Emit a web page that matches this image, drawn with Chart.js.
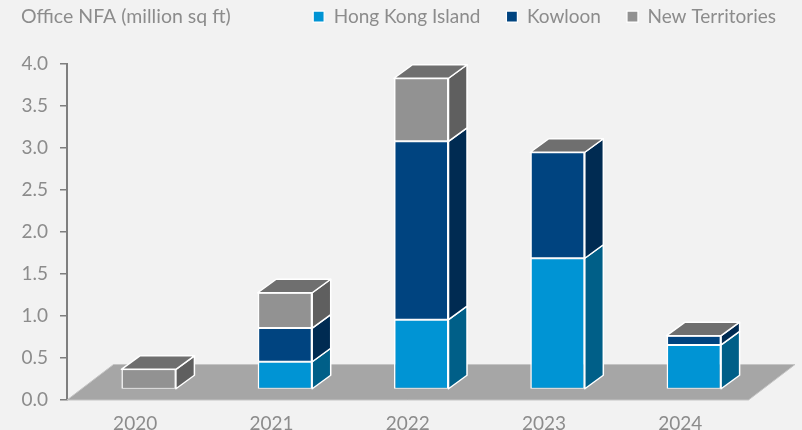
<!DOCTYPE html>
<html>
<head>
<meta charset="utf-8">
<title>Office NFA</title>
<script src="https://cdn.jsdelivr.net/npm/chart.js@4/dist/chart.umd.min.js"></script>
<style>
    html, body { margin: 0; padding: 0; background: #f2f2f2; }
    #wrap { width: 802px; height: 430px; }
</style>
</head>
<body>
<div id="wrap"><canvas id="officeChart"></canvas></div>
<script>
const years = ['2020', '2021', '2022', '2023', '2024'];
const hongKongIsland = [0, 0.33, 0.83, 1.56, 0.53];
const kowloon = [0, 0.40, 2.12, 1.26, 0.11];
const newTerritories = [0.24, 0.42, 0.75, 0, 0];

const textColor = '#8c8c8c';
const axisColor = '#7f7f7f';

// front, side colours of each series
const frontColors = ['#0094d4', '#004480', '#929292'];
const sideColors = ['#005f88', '#002b52', '#5f5f5f'];
const topColor = '#6f6f6f';

// bars sit part way back on the floor, and have their own depth
const floorDepth = { x: 46.5, y: -35.5 };
const barShift = { x: 13.5, y: -10.5 };
const barDepth = { x: 18.5, y: -13.5 };

function facePath(ctx, points, fill) {
    ctx.beginPath();
    points.forEach(function(p, i) {
        if (i == 0) ctx.moveTo(p[0], p[1]);
        else ctx.lineTo(p[0], p[1]);
    });
    ctx.closePath();
    ctx.fillStyle = fill;
    ctx.fill();
    ctx.stroke();
}

const box3d = {
    id: 'box3d',
    afterLayout: function(chart) {
        // legend shares the title's row and ends past the plot area
        chart.legend.right = 802;
        chart.legend.top = -19;
    },
    beforeDatasetsDraw: function(chart) {
        const ctx = chart.ctx;
        const x = chart.scales.x;
        const y0 = chart.scales.y.getPixelForValue(0);

        ctx.save();
        ctx.strokeStyle = '#c4c4c4';
        ctx.lineWidth = 1;
        facePath(ctx, [
            [x.left, y0],
            [x.right, y0],
            [x.right + floorDepth.x, y0 + floorDepth.y],
            [x.left + floorDepth.x, y0 + floorDepth.y]
        ], '#a6a6a6');
        ctx.restore();

        ctx.save();
        ctx.translate(barShift.x, barShift.y);
    },
    afterDatasetsDraw: function(chart) {
        const ctx = chart.ctx;
        ctx.strokeStyle = '#ffffff';
        ctx.lineWidth = 1.5;
        ctx.lineJoin = 'round';

        years.forEach(function(year, j) {
            let topBar = null;
            chart.data.datasets.forEach(function(set, i) {
                const bar = chart.getDatasetMeta(i).data[j];
                if ( set.data[j] == 0 ) {
                    return;
                }
                const right = bar.x + bar.width / 2;
                facePath(ctx, [
                    [right, bar.y],
                    [right + barDepth.x, bar.y + barDepth.y],
                    [right + barDepth.x, bar.base + barDepth.y],
                    [right, bar.base]
                ], sideColors[i]);
                topBar = bar;
            });
            const left = topBar.x - topBar.width / 2;
            const right = topBar.x + topBar.width / 2;
            facePath(ctx, [
                [left, topBar.y],
                [right, topBar.y],
                [right + barDepth.x, topBar.y + barDepth.y],
                [left + barDepth.x, topBar.y + barDepth.y]
            ], topColor);
        });
        ctx.restore();
    }
};

function makeSet(label, values, color) {
    return {
        label: label,
        data: values,
        backgroundColor: color,
        borderColor: '#ffffff',
        borderWidth: { top: 1, bottom: 1, left: 1.5, right: 1.5 },
        borderSkipped: false,
        clip: false,
        categoryPercentage: 1,
        barPercentage: 0.4
    };
}

Chart.defaults.font.family = 'Lato, "Open Sans", sans-serif';
Chart.defaults.color = textColor;

new Chart(document.getElementById('officeChart').getContext('2d'), {
    type: 'bar',
    data: {
        labels: years,
        datasets: [
            makeSet('Hong Kong Island', hongKongIsland, frontColors[0]),
            makeSet('Kowloon', kowloon, frontColors[1]),
            makeSet('New Territories', newTerritories, frontColors[2])
        ]
    },
    plugins: [box3d],
    options: {
        responsive: true,
        maintainAspectRatio: false,
        animation: false,
        layout: { padding: { left: 21, right: 53.5, top: 8.5, bottom: 0 } },
        plugins: {
            tooltip: { enabled: false },
            title: {
                display: true,
                text: 'Office NFA (million sq ft)',
                align: 'start',
                color: textColor,
                font: { size: 19.5, weight: 'normal' },
                padding: { top: -3, bottom: -20.4 }
            },
            legend: {
                position: 'top',
                align: 'end',
                labels: {
                    boxWidth: 11,
                    boxHeight: 11,
                    padding: 26,
                    color: textColor,
                    font: { size: 19 }
                }
            }
        },
        scales: {
            x: {
                stacked: true,
                grid: { display: false },
                border: { display: false },
                ticks: { color: textColor, font: { size: 19 }, padding: 4, maxRotation: 0 },
                afterFit: function(scale) { scale.height = 30; }
            },
            y: {
                stacked: true,
                min: 0,
                max: 4,
                afterFit: function(scale) { scale.width = 46; },
                grid: { drawOnChartArea: false, color: axisColor, tickLength: 7, lineWidth: 1.5 },
                border: { display: true, color: axisColor, width: 2 },
                ticks: {
                    stepSize: 0.5,
                    color: textColor,
                    padding: 12,
                    font: { size: 19 },
                    callback: function(value) { return value.toFixed(1); }
                }
            }
        }
    }
});
</script>
</body>
</html>
